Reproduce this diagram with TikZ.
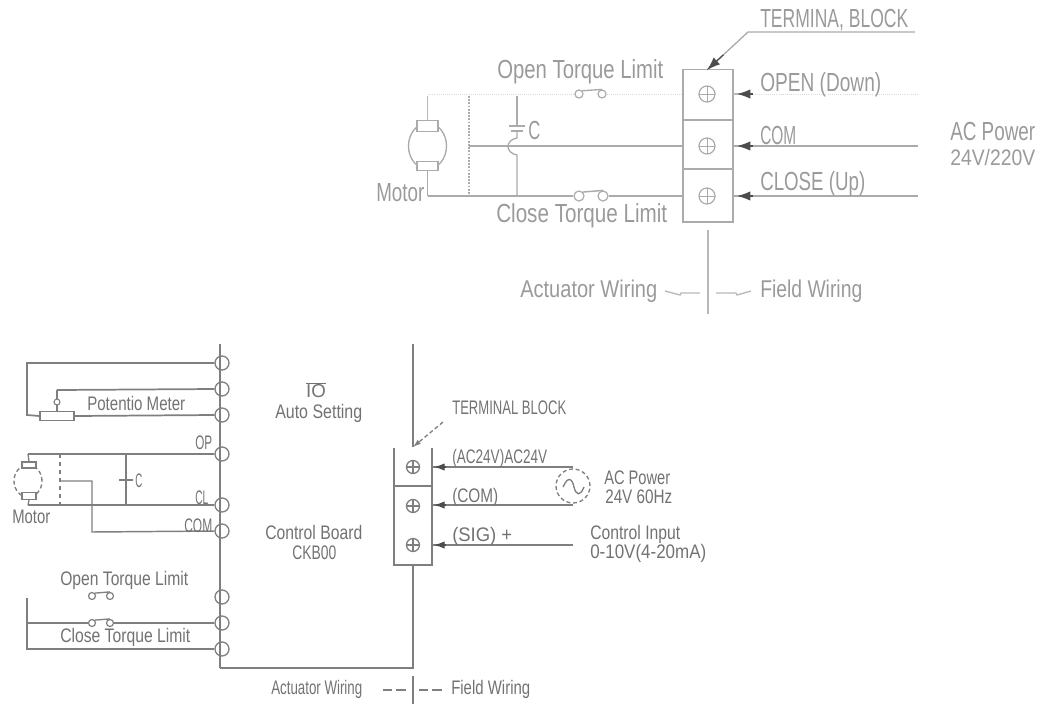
\documentclass[tikz,border=0pt]{standalone}
\usepackage{fontspec}
\usepackage{graphicx}
\setmainfont{Liberation Sans}
\usetikzlibrary{arrows.meta,calc,shapes.geometric}
\newcommand{\fitw}[2]{\resizebox{\dimexpr #1pt*3/4\relax}{1.4\height}{#2}}
\definecolor{topc}{HTML}{ABABAB}
\definecolor{botc}{HTML}{7F7F7F}
\tikzset{
  topw/.style={draw=topc,line width=1.6pt},
  thinw/.style={draw=topc!85,line width=.8pt},
  faint/.style={draw=topc!45,line width=.6pt,densely dotted},
  botw/.style={draw=botc,line width=1.3pt},
  tlbl/.style={inner sep=0pt,text=topc!90!black,font=\fontsize{14}{14}\selectfont},
  blbl/.style={inner sep=0pt,text=botc!90!black,font=\fontsize{10.5}{11}\selectfont},
  termt/.style={circle,draw=topc,line width=.9pt,minimum size=16pt*.75,inner sep=0pt,
    path picture={\draw[topc,line width=.7pt] (path picture bounding box.west)--(path picture bounding box.east);
    \draw[topc,line width=.7pt] (path picture bounding box.north)--(path picture bounding box.south);}},
  termb/.style={circle,draw=botc,line width=1pt,minimum size=13pt*.75,inner sep=0pt,
    path picture={\draw[botc,line width=.9pt] (path picture bounding box.west)--(path picture bounding box.east);
    \draw[botc,line width=.9pt] (path picture bounding box.north)--(path picture bounding box.south);}},
  tap/.style={circle,draw=botc,line width=1pt,minimum size=14pt*.75,inner sep=0pt},
  swt/.style={circle,draw=topc,line width=.9pt,minimum size=10pt*.75,inner sep=0pt},
  swb/.style={circle,draw=botc,line width=.9pt,minimum size=7pt*.75,inner sep=0pt},
  headt/.style={draw=black!70,line width=.9pt,-{Latex[length=10pt,width=7pt]}},
  headb/.style={draw=black!70,line width=.8pt,-{Latex[length=8pt,width=5.5pt]}},
  brusht/.style={draw=topc,line width=1pt,rectangle,inner sep=0pt},
  brushb/.style={draw=botc,line width=1pt,rectangle,inner sep=0pt},
}
\begin{document}
\begin{tikzpicture}[x=0.75pt,y=-0.75pt]
\useasboundingbox (0,0) rectangle (1043,704);
% ---------- top diagram ----------
\node[draw=topc,line width=1pt,minimum width=50*.75pt,minimum height=152.5*.75pt,inner sep=0pt] (tb) at (708,145.7) {};
\draw[topc,line width=1pt] (683,120) coordinate (d1l) -- (733,120) coordinate (d1r);
\draw[topc,line width=1pt] (683,169) coordinate (d2l) -- (733,169) coordinate (d2r);
\node[termt] (t1) at (707,94) {};
\node[termt] (t2) at (707,146) {};
\node[termt] (t3) at (707,196) {};
\coordinate (t1l) at (683,94); \coordinate (t2l) at (683,146); \coordinate (t3l) at (683,196);
\coordinate (t1r) at (733,94); \coordinate (t2r) at (733,146); \coordinate (t3r) at (733,196);
\coordinate (h1a) at (753,94); \coordinate (h1b) at (737,94);
\coordinate (h2a) at (753,146); \coordinate (h2b) at (737,146);
\coordinate (h3a) at (753,196); \coordinate (h3b) at (737,196);
\coordinate (e1) at (918,94); \coordinate (e2) at (918,146); \coordinate (e3) at (918,196);
\draw[faint] (e1)--(h1a);
\draw[thinw] (h1a)--(t1r);
\draw[headt] (h1a)--(h1b);
\draw[topw] (e2)--(t2r);
\draw[headt] (h2a)--(h2b);
\draw[topw] (e3)--(t3r);
\draw[headt] (h3a)--(h3b);
% motor
\node[draw=topc,line width=1pt,ellipse,minimum width=38*.75pt,minimum height=46*.75pt,inner sep=0pt] (mot) at (427.5,146) {};
\node[brusht,minimum width=21*.75pt,minimum height=11*.75pt,fill=white] (bt) at (427.5,126) {};
\node[brusht,minimum width=21*.75pt,minimum height=9*.75pt,fill=white] (bb) at (427.5,166) {};
\coordinate (mtop) at (427.5,96); \coordinate (mbot) at (427.5,196);
\draw[thinw] (mtop)--(bt.north);
\draw[topw,line width=1.1pt] (bb.south)--(mbot);
% lower wire with switch
\node[swt] (s1a) at (579,196) {};
\node[swt] (s1b) at (603,196) {};
\node[swt,minimum size=8pt*.75] (s2a) at (579,94) {};
\node[swt,minimum size=8pt*.75] (s2b) at (602,94) {};
\draw[topw] (mbot)--(s1a.west);
\draw[topw] (s1b.east)--(t3l);
\draw[topc,line width=1.1pt] (s1a.north east)--(s1b.north);
\draw[topc,line width=1pt] (s2a.north east)--(s2b.north);
\coordinate (ftl) at (428,94);
\draw[faint] (ftl)--(s2a.west);
\draw[faint] (s2b.east)--(t1l);
% inductor
\coordinate (la) at (469,96); \coordinate (lb) at (469,196); \coordinate (lm) at (469,146);
\draw[topc,line width=1.4pt,densely dotted] (la)--(lb);
\coordinate (cj) at (507,146);
\draw[topw] (lm)--(t2l);
% capacitor
\coordinate (ca) at (517,96); \coordinate (cp1) at (517,126); \coordinate (cp2) at (517,131);
\coordinate (cj1) at (517,138); \coordinate (cj2) at (517,155); \coordinate (cb) at (517,196);
\draw[topc,line width=1pt] (ca)--(cp1);
\draw[topw,line width=1.3pt] (cp1) ++(-8,0) coordinate (cp1l) -- ++(16,0) coordinate (cp1r);
\draw[topw,line width=1.3pt] (cp2) ++(-6,0) coordinate (cp2l) -- ++(12,0) coordinate (cp2r);
\draw[topc,line width=1pt] (cp2)--(cj1) .. controls (505,140) and (505,153) .. (cj2) -- (cb);
% labels
\node[tlbl,anchor=west] (lopen) at (497,72) {\fitw{166}{Open Torque Limit}};
\node[tlbl,anchor=west] (lclose) at (496,216) {\fitw{171}{Close Torque Limit}};
\node[tlbl,anchor=west] (lmot) at (376,193) {\fitw{48}{Motor}};
\node[tlbl,anchor=west] (lc) at (528,130) {\fitw{12}{C}};
\node[tlbl,anchor=west] (lop) at (760,85) {\fitw{121}{OPEN (Down)}};
\node[tlbl,anchor=west] (lcom) at (760,135) {\fitw{36}{COM}};
\node[tlbl,anchor=west] (lcl) at (760,184) {\fitw{105}{CLOSE (Up)}};
\node[tlbl,anchor=west] (lac) at (950,131) {\fitw{85}{AC Power}};
\node[tlbl,anchor=west,font=\fontsize{12}{12}\selectfont] (lv) at (950,157) {\fitw{85}{24V/220V}};
\node[tlbl,anchor=west] (ltb) at (760,20) {\fitw{148}{TERMINA, BLOCK}};
\coordinate (ul1) at (915,32); \coordinate (ul2) at (748,32); \coordinate (ul3) at (707,70);
\draw[topc,line width=1pt] (ul1)--(ul2)--(ul3);
\draw[headt] ($(ul3)!0.4!(ul2)$)--(ul3);
\coordinate (vt) at (708,230); \coordinate (vb) at (708,314);
\draw[thinw] (vt)--(vb);
\node[tlbl,anchor=west,font=\fontsize{13}{13}\selectfont] (lact) at (520,291) {\fitw{137}{Actuator Wiring}};
\node[tlbl,anchor=west,font=\fontsize{13}{13}\selectfont] (lfld) at (760,291) {\fitw{102}{Field Wiring}};
\coordinate (w1a) at (665,291); \coordinate (w1b) at (700,293);
\draw[thinw,line width=1pt] (w1a)--(680,295)--(681,293)--(w1b);
\coordinate (w2a) at (716,293); \coordinate (w2b) at (751,291);
\draw[thinw,line width=1pt] (w2a)--(736,293)--(737,295)--(w2b);
% ---------- bottom diagram ----------
\coordinate (bus1) at (220,344); \coordinate (bus2) at (220,668); \coordinate (bus3) at (413,668);
\coordinate (bus4) at (413,565);
\draw[botw,line width=1.8pt] (bus1)--(bus2);
\draw[botw] (bus2)--(bus3)--(bus4);
\coordinate (rt) at (413,344); \coordinate (rb) at (413,447);
\draw[botw] (rt)--(rb);
% terminal block
\coordinate (bl) at (394,448); \coordinate (bll) at (394,565); \coordinate (brl) at (432,565); \coordinate (br) at (432,448);
\draw[botw] (bl)--(bll)--(brl)--(br);
\draw[botw] (394,486) coordinate (bd1) -- (432,486) coordinate (bd2);
\node[termb] (q1) at (413,467) {};
\node[termb] (q2) at (413,506) {};
\node[termb] (q3) at (413,545) {};
\coordinate (q1r) at (432,467); \coordinate (q2r) at (432,505); \coordinate (q3r) at (432,545);
\node[draw=botc,line width=1pt,densely dashed,circle,minimum size=34*.75pt,inner sep=0pt] (ac) at (573,486) {};
\draw[botc,line width=1pt] (563,487) coordinate (sa) .. controls (568,476) and (572,478) .. (574,487) .. controls (576,495) and (580,497) .. (584,487) coordinate (sb);
\coordinate (ac1) at (573,467); \coordinate (ac2) at (573,505); \coordinate (ci) at (573,545);
\draw[botw] (ac1)--(q1r); \draw[botw] (ac2)--(q2r); \draw[botw] (ci)--(q3r);
\coordinate (ha1) at (446,467); \coordinate (hb1) at (434,467);
\coordinate (ha2) at (446,505); \coordinate (hb2) at (434,505);
\coordinate (ha3) at (446,545); \coordinate (hb3) at (434,545);
\draw[headb] (ha1)--(hb1); \draw[headb] (ha2)--(hb2); \draw[headb] (ha3)--(hb3);
% taps
\node[tap] (p1) at (222,363) {};
\node[tap] (p2) at (222,389) {};
\node[tap] (p3) at (222,415) {};
\node[tap] (p4) at (222,454) {};
\node[tap] (p5) at (222,505) {};
\node[tap] (p6) at (222,531) {};
\node[tap] (p7) at (222,597) {};
\node[tap] (p8) at (222,623) {};
\node[tap] (p9) at (222,649) {};
% potentiometer
\node[draw=botc,line width=1pt,minimum width=34*.75pt,minimum height=9*.75pt,inner sep=0pt] (pot) at (57,416) {};
\coordinate (c1) at (27,363); \coordinate (c2) at (27,415);
\draw[botw] (p1.west)--(c1)--(c2)--(pot.west);
\draw[botw] (pot.east)--(p3.west);
\coordinate (wp) at (57,390);
\draw[botc,line width=1pt] (pot.north)--(wp);
\draw[botw] (wp)--(p2.west);
\node[circle,draw=botc,line width=.8pt,minimum size=6pt*.75,inner sep=0pt,fill=white] (wh) at (57,402) {};
% motor
\coordinate (m1) at (28,454); \coordinate (m2) at (28,505);
\draw[botw] (m1)--(p4.west);
\draw[botw] (m2)--(p5.west);
\node[draw=botc,line width=1pt,densely dashed,ellipse,minimum width=28*.75pt,minimum height=32*.75pt,inner sep=0pt] (bmot) at (28,481) {};
\node[brushb,minimum width=14*.75pt,minimum height=6*.75pt,fill=white] (bm1) at (29,465) {};
\node[brushb,minimum width=14*.75pt,minimum height=7*.75pt,fill=white] (bm2) at (29,496) {};
\draw[botc,line width=1pt] (bm1.north)--(m1);
\draw[botc,line width=1pt] (bm2.south)--(m2);
% inductor, tap
\coordinate (bla) at (60,454); \coordinate (blb) at (60,505); \coordinate (blm) at (60,481);
\draw[botc,line width=1.1pt,dashed] (bla)--(blb);
\coordinate (tp1) at (92,481); \coordinate (tp2) at (92,532);
\draw[botc,line width=1.1pt] (blm)--(tp1)--(tp2)--(p6.west);
% capacitor
\coordinate (bc1) at (126,454); \coordinate (bc2) at (126,505);
\draw[botw] (bc1)--(bc2);
\draw[botc,line width=2pt] (119,480) coordinate (bcl) -- (133,480) coordinate (bcr);
\node[blbl,anchor=west] (lbc) at (135,481) {\fitw{7}{C}};
% torque limit
\coordinate (v1) at (27,598); \coordinate (v2) at (27,649); \coordinate (v3) at (27,623);
\draw[botw] (v1)--(v2)--(p9.west);
\node[swb] (s3a) at (92,623) {};
\node[swb] (s3b) at (110,623) {};
\draw[botw] (v3)--(s3a.west);
\draw[botw] (s3b.east)--(p8.west);
\draw[botc,line width=1pt] (s3a.north east)--(s3b.north);
\node[swb] (s4a) at (92,596) {};
\node[swb] (s4b) at (110,596) {};
\draw[botc,line width=1pt] (s4a.north east)--(s4b.north);
% bottom labels
\node[blbl,anchor=west] (b1) at (87,403) {\fitw{98}{Potentio Meter}};
\node[blbl,anchor=west] (b2) at (12,517) {\fitw{38}{Motor}};
\node[blbl,anchor=west] (b3) at (195,443) {\fitw{17}{OP}};
\node[blbl,anchor=west] (b4) at (195,498) {\fitw{13}{CL}};
\node[blbl,anchor=west] (b5) at (184,526) {\fitw{28}{COM}};
\node[blbl,anchor=west] (b6) at (60,580) {\fitw{128}{Open Torque Limit}};
\node[blbl,anchor=west] (b7) at (60,637) {\fitw{130}{Close Torque Limit}};
\node[blbl,anchor=center,font=\fontsize{14}{14}\selectfont] (b8) at (316,390) {$\overline{\mbox{IO}}$};
\node[blbl,anchor=west] (b9) at (275,413) {\fitw{87}{Auto Setting}};
\node[blbl,anchor=west] (b10) at (265,532) {\fitw{97}{Control Board}};
\node[blbl,anchor=west] (b11) at (292,553) {\fitw{44}{CKB00}};
\node[blbl,anchor=west] (b12) at (452,408) {\fitw{114}{TERMINAL BLOCK}};
\node[blbl,anchor=west] (b13) at (452,458) {\fitw{95}{(AC24V)AC24V}};
\node[blbl,anchor=west] (b14) at (452,497) {\fitw{46}{(COM)}};
\node[blbl,anchor=west] (b15) at (452,536) {\fitw{60}{(SIG) +}};
\node[blbl,anchor=west] (b16) at (604,478) {\fitw{66}{AC Power}};
\node[blbl,anchor=west] (b17) at (605,497) {\fitw{67}{24V 60Hz}};
\node[blbl,anchor=west] (b18) at (590,534) {\fitw{90}{Control Input}};
\node[blbl,anchor=west] (b19) at (590,553) {\fitw{116}{0-10V(4-20mA)}};
\node[blbl,anchor=west] (b20) at (271,689) {\fitw{91}{Actuator Wiring}};
\node[blbl,anchor=west] (b21) at (451,689) {\fitw{79}{Field Wiring}};
\coordinate (ld1) at (443,422); \coordinate (ld2) at (413,447);
\draw[botc,line width=1pt,densely dashed,-{Latex[length=6pt,width=4pt]}] (ld1)--(ld2);
\coordinate (vv1) at (413,676); \coordinate (vv2) at (413,704);
\draw[botw] (vv1)--(vv2);
\coordinate (x1) at (383,690); \coordinate (x2) at (406,690);
\coordinate (x3) at (419,690); \coordinate (x4) at (445,690);
\draw[botc,line width=1pt,dash pattern=on 7pt off 3pt] (x1)--(x2);
\draw[botc,line width=1pt,dash pattern=on 7pt off 3pt] (x3)--(x4);
\end{tikzpicture}
\end{document}
